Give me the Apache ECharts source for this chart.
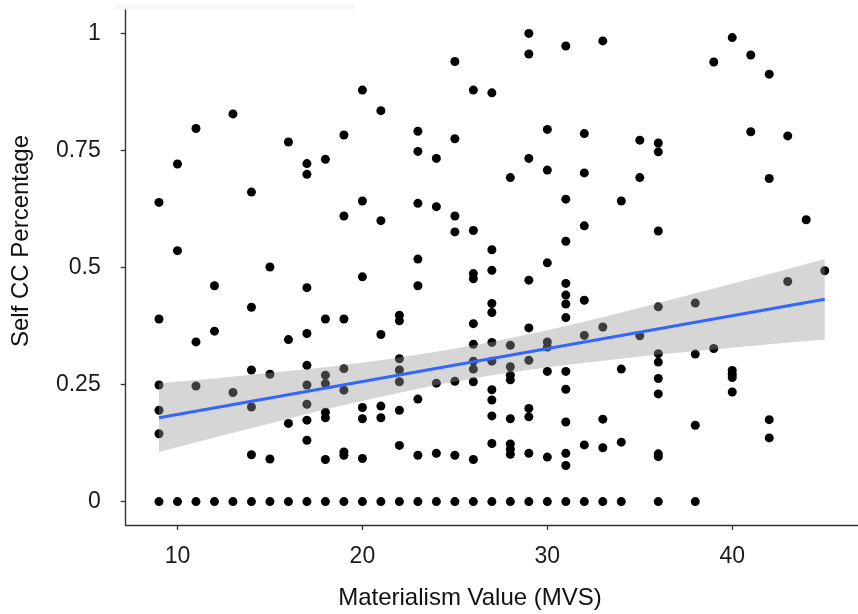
<!DOCTYPE html>
<html>
<head>
<meta charset="utf-8">
<script src="https://cdn.jsdelivr.net/npm/echarts@6/dist/echarts.min.js"></script>
<style>html,body{margin:0;padding:0;background:#fff}#c{width:858px;height:614px}</style>
</head>
<body>
<div id="c"></div>
<script>
// MVS score levels and the Self CC percentages observed at each level
const mvsLevels = [9,10,11,12,13,14,15,16,17,18,19,20,21,22,23,24,25,26,27,28,29,30,31,32,33,34,35,36,38,39,40,41,42,43,44,45];
const selfCCByLevel = [
  [0.639,0.390,0.249,0.195,0.145,0],
  [0.721,0.536,0],
  [0.797,0.341,0.247,0],
  [0.461,0.364,0],
  [0.828,0.233,0],
  [0.661,0.415,0.281,0.202,0.100,0],
  [0.501,0.272,0.091,0],
  [0.768,0.346,0.167,0],
  [0.722,0.699,0.457,0.359,0.291,0.249,0.208,0.174,0.131,0],
  [0.731,0.390,0.270,0.252,0.191,0.179,0.090,0],
  [0.783,0.610,0.390,0.284,0.238,0.106,0.099,0],
  [0.879,0.642,0.480,0.201,0.177,0.092,0],
  [0.835,0.600,0.357,0.204,0.179,0],
  [0.398,0.386,0.305,0.281,0.256,0.195,0.120,0],
  [0.791,0.748,0.637,0.518,0.461,0.219,0.099,0],
  [0.733,0.630,0.253,0.103,0],
  [0.940,0.775,0.610,0.576,0.257,0.099,0],
  [0.879,0.579,0.487,0.476,0.380,0.336,0.300,0.283,0.256,0.090,0],
  [0.873,0.538,0.494,0.423,0.404,0.340,0.300,0.239,0.217,0.183,0.124,0],
  [0.692,0.334,0.288,0.270,0.260,0.177,0.123,0.112,0.101,0],
  [1.000,0.956,0.733,0.473,0.371,0.302,0.199,0.181,0.103,0],
  [0.795,0.708,0.510,0.341,0.330,0.278,0.095,0],
  [0.973,0.646,0.556,0.466,0.441,0.422,0.393,0.278,0.240,0.170,0.103,0.077,0],
  [0.786,0.702,0.589,0.430,0.355,0.121,0],
  [0.984,0.373,0.176,0.115,0],
  [0.642,0.283,0.127,0],
  [0.772,0.692,0.354],
  [0.766,0.747,0.578,0.416,0.316,0.298,0.263,0.230,0.102,0.096,0],
  [0.424,0.315,0.163,0],
  [0.939,0.327],
  [0.991,0.280,0.272,0.265,0.234],
  [0.954,0.790],
  [0.913,0.690,0.175,0.136],
  [0.781,0.470],
  [0.602],
  [0.493]
];
// Linear fit and its confidence band
const fitX = [9, 45];
const fitY = [0.179, 0.432];
const ciX = [9,12,15,18,21,24,27,30,33,36,39,42,45];
const ciLower = [0.106,0.137,0.167,0.197,0.224,0.249,0.270,0.287,0.301,0.314,0.325,0.336,0.346];
const ciUpper = [0.253,0.263,0.275,0.287,0.302,0.320,0.341,0.366,0.394,0.424,0.455,0.486,0.518];
// Tick labels
const xTicks = [10,20,30,40];
const yTicks = [0,0.25,0.5,0.75,1];
const xTitle = 'Materialism Value (MVS)';
const yTitle = 'Self CC Percentage';

const points = [];
mvsLevels.forEach((x, i) => selfCCByLevel[i].forEach(y => points.push([x, y])));

const FONT = 'Liberation Sans, Arial, Helvetica, sans-serif';
const axisCol = '#333333';

const chart = echarts.init(document.getElementById('c'), null, {renderer: 'canvas'});
chart.setOption({
  animation: false,
  backgroundColor: '#ffffff',
  grid: {left: 125.7, right: -26.8, top: 10, bottom: 89, containLabel: false},
  xAxis: {
    type: 'value', min: 7.2, max: 46.8,
    axisLine: {show: true, onZero: false, lineStyle: {color: axisCol, width: 1.4}},
    axisTick: {show: true, length: 5, customValues: xTicks, lineStyle: {color: axisCol, width: 1.3}},
    axisLabel: {customValues: xTicks, margin: 20, fontSize: 23, color: '#1a1a1a', fontFamily: FONT},
    splitLine: {show: false}
  },
  yAxis: {
    type: 'value', min: -0.05, max: 1.05,
    axisLine: {show: true, onZero: false, lineStyle: {color: axisCol, width: 1.4}},
    axisTick: {show: true, length: 5, customValues: yTicks, lineStyle: {color: axisCol, width: 1.3}},
    axisLabel: {customValues: yTicks, margin: 25, fontSize: 23, color: '#1a1a1a', fontFamily: FONT,
      formatter: v => String(+v.toFixed(2))},
    splitLine: {show: false}
  },
  graphic: [
    {type: 'rect', shape: {x: 115, y: 4, width: 240, height: 6}, style: {fill: '#f8f8f8'}, z: -1, silent: true},
    {type: 'text', x: 470, y: 598, silent: true,
      style: {text: xTitle, fontSize: 24, fontFamily: FONT, fill: '#111', align: 'center', verticalAlign: 'middle'}},
    {type: 'text', x: 21, y: 241, rotation: Math.PI / 2, silent: true,
      style: {text: yTitle, fontSize: 24, fontFamily: FONT, fill: '#111', align: 'center', verticalAlign: 'middle'}}
  ],
  series: [
    {type: 'scatter', data: points, symbolSize: 9, itemStyle: {color: '#000000', opacity: 1}, z: 2, silent: true},
    {type: 'custom', z: 3, silent: true, data: [[27, 0.3]],
      renderItem: (params, api) => {
        const pts = [];
        for (let i = 0; i < ciX.length; i++) pts.push(api.coord([ciX[i], ciUpper[i]]));
        for (let i = ciX.length - 1; i >= 0; i--) pts.push(api.coord([ciX[i], ciLower[i]]));
        return {type: 'polygon', shape: {points: pts}, style: {fill: 'rgba(153,153,153,0.4)'}};
      }},
    {type: 'line', z: 4, silent: true, symbol: 'none', data: fitX.map((x, i) => [x, fitY[i]]),
      lineStyle: {color: '#3366FF', width: 3}}
  ]
});
</script>
</body>
</html>
